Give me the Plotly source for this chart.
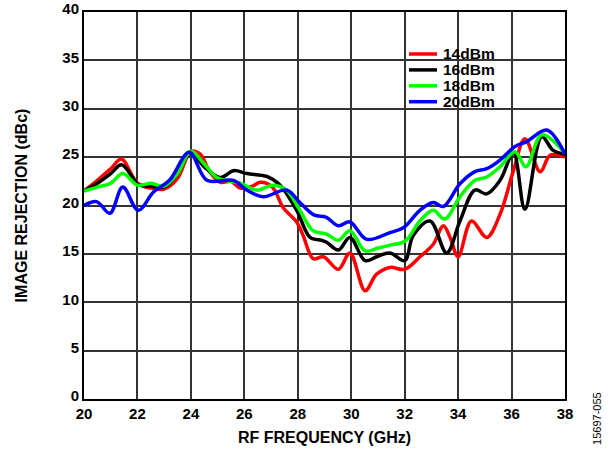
import plotly.graph_objects as go

# 14dBm
freq_14 = [20, 20.5, 21.0, 21.4, 22.0, 22.5, 23.0, 23.5, 24.0, 24.35, 24.7, 25.1, 25.5, 25.85,
           26.3, 26.6, 27.05, 27.45, 27.96, 28.2, 28.58, 28.96, 29.52, 29.95, 30.52, 30.95,
           31.45, 32.0, 32.57, 33.07, 33.45, 33.7, 34.0, 34.5, 35.07, 35.57, 36.07, 36.5,
           37.07, 37.45, 38.0]
rej_14 = [21.5, 22.6, 23.8, 24.8, 22.3, 21.8, 21.7, 22.8, 25.6, 25.3, 23.5, 22.4, 22.5, 21.8,
          22.0, 22.4, 21.9, 19.8, 18.3, 16.9, 14.5, 14.7, 13.4, 15.1, 11.2, 12.9,
          13.6, 13.4, 14.7, 16.0, 17.9, 16.7, 14.7, 18.4, 16.7, 19.1, 23.6, 26.9,
          23.5, 25.2, 25.0]

# 16dBm
freq_16 = [20, 20.5, 21.0, 21.4, 21.8, 22.0, 22.5, 23.0, 23.5, 24.0, 24.5, 25.1, 25.6, 26.1,
           26.84, 27.34, 27.96, 28.46, 28.9, 29.08, 29.52, 29.95, 30.52, 30.95, 31.45, 32.0,
           32.32, 32.95, 33.57, 34.07, 34.63, 35.07, 35.57, 36.07, 36.5, 37.13, 37.56, 38.0]
rej_16 = [21.5, 22.3, 23.3, 24.2, 23.0, 22.2, 22.0, 21.9, 23.3, 25.5, 24.0, 22.9, 23.6, 23.3,
          23.0, 22.1, 19.5, 16.7, 16.4, 16.2, 15.4, 16.7, 14.3, 14.7, 15.1, 14.3,
          16.9, 18.4, 15.1, 18.4, 21.6, 21.2, 22.6, 25.4, 19.6, 27.1, 25.7, 25.3]

# 18dBm
freq_18 = [20, 20.5, 21.0, 21.45, 22.0, 22.5, 23.0, 23.5, 24.0, 24.5, 24.97, 25.84, 26.46,
           27.08, 27.58, 28.08, 28.57, 29.08, 29.52, 29.95, 30.52, 31.0, 31.45, 32.01, 32.57,
           33.07, 33.5, 34.07, 34.63, 35.07, 35.57, 36.13, 36.54, 37.13, 38.0]
rej_18 = [21.5, 21.9, 22.3, 23.3, 22.1, 22.3, 22.0, 23.3, 25.6, 24.3, 22.9, 22.3, 21.6,
          22.1, 21.6, 19.5, 17.4, 17.05, 16.4, 17.4, 15.3, 15.6, 15.9, 16.3, 18.4,
          19.5, 18.6, 20.9, 22.6, 22.95, 24.0, 25.55, 24.0, 27.3, 25.4]

# 20dBm
freq_20 = [20, 20.47, 20.97, 21.45, 22.03, 22.6, 23.2, 23.94, 24.6, 25.59, 26.09, 26.71,
           27.58, 28.08, 28.62, 29.05, 29.52, 29.95, 30.58, 31.45, 31.95, 32.57, 33.07,
           33.45, 34.07, 34.63, 35.07, 35.57, 36.13, 36.57, 37.32, 38.0]
rej_20 = [20.0, 20.4, 19.2, 21.9, 19.5, 21.4, 22.6, 25.5, 22.6, 22.6, 21.6, 20.9,
          21.6, 20.3, 19.0, 18.8, 17.9, 18.3, 16.5, 17.2, 17.7, 19.5, 20.3,
          19.9, 22.25, 23.5, 23.8, 24.7, 26.1, 26.6, 27.8, 25.3]

series = [
    ("14dBm", freq_14, rej_14, "#ff0000"),
    ("16dBm", freq_16, rej_16, "#000000"),
    ("18dBm", freq_18, rej_18, "#00ff00"),
    ("20dBm", freq_20, rej_20, "#0000ff"),
]

FONT = "Liberation Sans"

fig = go.Figure()
for name, xs, ys, color in series:
    fig.add_trace(go.Scatter(x=xs, y=ys, name=name, mode="lines", showlegend=False,
                             line=dict(color=color, width=3.5, shape="spline", smoothing=1.0)))

# legend drawn by hand so the rows sit as tight as in the original
fig.add_shape(type="rect", xref="paper", yref="paper", x0=0.659, x1=0.877, y0=0.747, y1=0.938,
              fillcolor="white", line=dict(width=0), layer="between")
for i, (name, _, _, color) in enumerate(series):
    yy = 0.8915 - i * 0.0411
    fig.add_shape(type="line", xref="paper", yref="paper", x0=0.6757, x1=0.7339, y0=yy, y1=yy,
                  line=dict(color=color, width=3.5), layer="above")
    fig.add_annotation(text=f"<b>{name}</b>", xref="paper", yref="paper", x=0.7422, y=yy,
                       xanchor="left", yanchor="middle", showarrow=False,
                       font=dict(family=FONT, size=15.5, color="black"))

fig.update_layout(
    width=613, height=451,
    margin=dict(l=84, r=48, t=12, b=52),
    paper_bgcolor="white", plot_bgcolor="white",
    font=dict(family=FONT, size=15, color="black"),
    showlegend=False,
)
fig.update_xaxes(range=[20, 38], dtick=2, showgrid=True, gridcolor="#333333", gridwidth=1.5,
                 showline=True, linecolor="black", linewidth=2, mirror=True,
                 ticks="", zeroline=False, automargin=False,
                 tickfont=dict(size=15, weight="bold"),
                 title=dict(text="<b>RF FREQUENCY (GHz)</b>", font=dict(size=16), standoff=11))
fig.update_yaxes(range=[0, 40], dtick=5, showgrid=True, gridcolor="#333333", gridwidth=1.5,
                 showline=True, linecolor="black", linewidth=2, mirror=True,
                 ticks="", zeroline=False, automargin=False, ticklabelshift=-3,
                 tickfont=dict(size=15, weight="bold"),
                 title=dict(text="<b>IMAGE REJECTION (dBc)</b>", font=dict(size=16), standoff=31))

fig.add_annotation(text="15697-055", xref="paper", yref="paper", x=1.0665, y=-0.049,
                   xanchor="center", yanchor="middle", textangle=-90, showarrow=False,
                   font=dict(family=FONT, size=11, color="black"))

fig.write_html("out.html", config={"displayModeBar": False},
               post_script="document.body.style.margin='0';")
